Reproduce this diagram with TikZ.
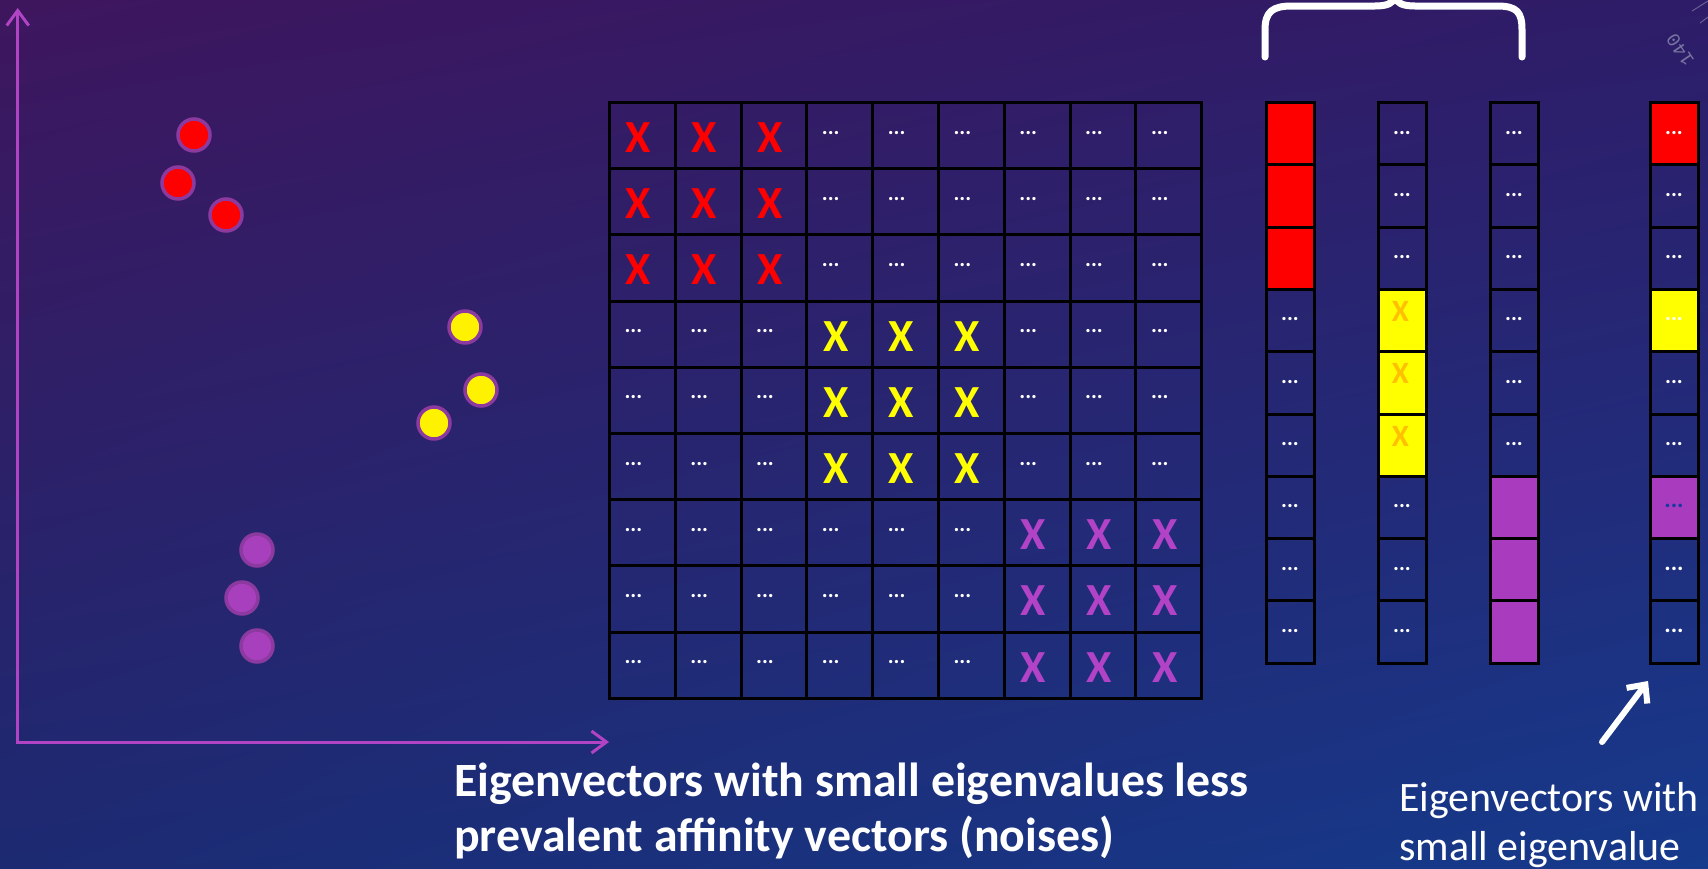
\documentclass[tikz,border=0pt]{standalone}
\usepackage{fontspec}
\setmainfont{Carlito}
\newfontfamily\decomono{Liberation Mono}
\usetikzlibrary{arrows.meta,calc,shadings}

\definecolor{bgTL}{RGB}{62,22,94}
\definecolor{bgTR}{RGB}{46,28,104}
\definecolor{bgBL}{RGB}{28,42,114}
\definecolor{bgBR}{RGB}{22,58,140}
\definecolor{vfill0}{RGB}{255,0,0}
\definecolor{vfill1}{RGB}{255,255,0}
\definecolor{vfill2}{RGB}{169,59,190}
\definecolor{xcol0}{RGB}{255,0,0}
\definecolor{xcol1}{RGB}{255,255,0}
\definecolor{xcol2}{RGB}{178,66,198}
\definecolor{xorange}{RGB}{255,192,0}
\definecolor{dotblue}{RGB}{20,60,160}
\definecolor{axiscol}{RGB}{176,68,196}
\definecolor{ptborder}{RGB}{140,58,160}
\definecolor{ptpurple}{RGB}{168,64,190}
\definecolor{decogray}{RGB}{140,140,175}

\begin{document}
\begin{tikzpicture}[x=1pt,y=-1pt,
  mcell/.style={draw=black, line width=3pt, minimum width=65.8pt, minimum height=66.2pt, inner sep=0pt, outer sep=0pt},
  vcell/.style={draw=black, line width=3pt, minimum width=48pt, minimum height=62.3pt, inner sep=0pt, outer sep=0pt},
  xmark/.style={font=\bfseries\fontsize{46}{46}\selectfont, inner sep=0pt, anchor=base},
  smallx/.style={font=\bfseries\fontsize{31}{31}\selectfont, text=xorange, inner sep=0pt, anchor=base},
  dotmark/.style={font=\bfseries\fontsize{22}{22}\selectfont, text=white, inner sep=0pt, anchor=base},
  dotbluemark/.style={dotmark, text=dotblue, font=\bfseries\fontsize{24}{24}\selectfont},
  dotboldmark/.style={dotmark, font=\bfseries\fontsize{24}{24}\selectfont},
  pt/.style={circle, draw=ptborder, line width=3.5pt, minimum size=32pt, inner sep=0pt},
  axis/.style={draw=axiscol, line width=3pt},
  brace/.style={draw=white, line width=7pt, line cap=round, line join=round},
  warrow/.style={draw=white, line width=6pt, line cap=round, -{Straight Barb[length=14pt,width=26pt]}},
  bigtext/.style={font=\bfseries\fontsize{47.8}{55}\selectfont, text=white, inner sep=0pt, anchor=base west},
  sidetext/.style={font=\fontsize{41.9}{50}\selectfont, text=white, inner sep=0pt, anchor=base west}
]
\useasboundingbox (0,0) rectangle (1708,868);
\shade[upper left=bgTL, upper right=bgTR, lower left=bgBL, lower right=bgBR] (0,0) rectangle (1708,868);

% faint decoration top right
\draw[decogray, line width=1pt, opacity=0.6] (1692,11) -- (1708,1);
\draw[decogray, line width=1pt, opacity=0.6] (1700,23) -- (1708,17);
\node[rotate=124, text=decogray, opacity=0.8, font=\decomono\fontsize{19}{19}\selectfont, inner sep=0pt] (deco) at (1680,50) {140};

% axes
\coordinate (origin) at (17.7,742);
\coordinate (ytip) at (17.7,8);
\coordinate (xtip) at (609,742);
\draw[axis, {Straight Barb[length=15pt,width=22pt]}-{Straight Barb[length=15pt,width=22pt]}] (ytip) -- (origin) -- (xtip);

% points
\node[pt, fill=red] (r1) at (194,135) {};
\node[pt, fill=red] (r2) at (178,183) {};
\node[pt, fill=red] (r3) at (226,215) {};
\node[pt, fill=yellow] (y1) at (465,327) {};
\node[pt, fill=yellow] (y2) at (481,390) {};
\node[pt, fill=yellow] (y3) at (434,423) {};
\node[pt, fill=ptpurple] (p1) at (257,550) {};
\node[pt, fill=ptpurple] (p2) at (242,598) {};
\node[pt, fill=ptpurple] (p3) at (257,646) {};

% affinity matrix
\foreach \r in {1,...,9}{
  \foreach \c in {1,...,9}{
    \pgfmathtruncatemacro{\br}{div(\r-1,3)}
    \pgfmathtruncatemacro{\bc}{div(\c-1,3)}
    \node[mcell] (m-\r-\c) at ({642.4+65.8*(\c-1)},{135.6+66.2*(\r-1)}) {};
    \ifnum\br=\bc
      \node[xmark, text=xcol\br] at ($(m-\r-\c.north)+(-4,50)$) {X};
    \else
      \node[dotmark] at ($(m-\r-\c.north)+(-9,31.5)$) {...};
    \fi
  }
}

% eigenvectors 1-3
\foreach \c/\xx in {1/1290,2/1402,3/1514}{
  \foreach \r in {1,...,9}{
    \pgfmathtruncatemacro{\br}{div(\r-1,3)}
    \pgfmathtruncatemacro{\bc}{\c-1}
    \ifnum\br=\bc
      \node[vcell, fill=vfill\bc] (v\c-\r) at (\xx,{133.65+62.3*(\r-1)}) {};
      \ifnum\bc=1
        \node[smallx] at ($(v\c-\r.north)+(-1.5,32)$) {X};
      \fi
    \else
      \node[vcell] (v\c-\r) at (\xx,{133.65+62.3*(\r-1)}) {};
      \node[dotmark] at ($(v\c-\r.north)+(0,31.5)$) {...};
    \fi
  }
}

% eigenvector with small eigenvalue
\foreach \r/\ff/\dd in {1/vfill0/dotmark,2/none/dotmark,3/none/dotmark,4/vfill1/dotmark,5/none/dotmark,6/none/dotmark,7/vfill2/dotbluemark,8/none/dotboldmark,9/none/dotboldmark}{
  \node[vcell, fill=\ff] (v4-\r) at (1674,{133.65+62.3*(\r-1)}) {};
  \node[\dd] at ($(v4-\r.north)+(0,31.5)$) {...};
}

% brace over the first three eigenvectors
\draw[brace] (1265,57) -- (1265,30) .. controls (1265,12) and (1272,6) .. (1292,6) -- (1375,6)
  .. controls (1388,6) and (1393,3) .. (1395,-3) .. controls (1397,3) and (1402,6) .. (1415,6)
  -- (1497,6) .. controls (1517,6) and (1522,12) .. (1522,30) -- (1522,57);

% white arrow
\coordinate (wa1) at (1602,742);
\coordinate (wa2) at (1648,681);
\draw[warrow] (wa1) -- (wa2);

% texts
\node[bigtext] (t1) at (454,796) {Eigenvectors with small eigenvalues less};
\node[bigtext] (t2) at (454,851) {prevalent affinity vectors (noises)};
\node[sidetext] (s1) at (1399,811) {Eigenvectors with};
\node[sidetext] (s2) at (1399,860) {small eigenvalue};
\end{tikzpicture}
\end{document}
